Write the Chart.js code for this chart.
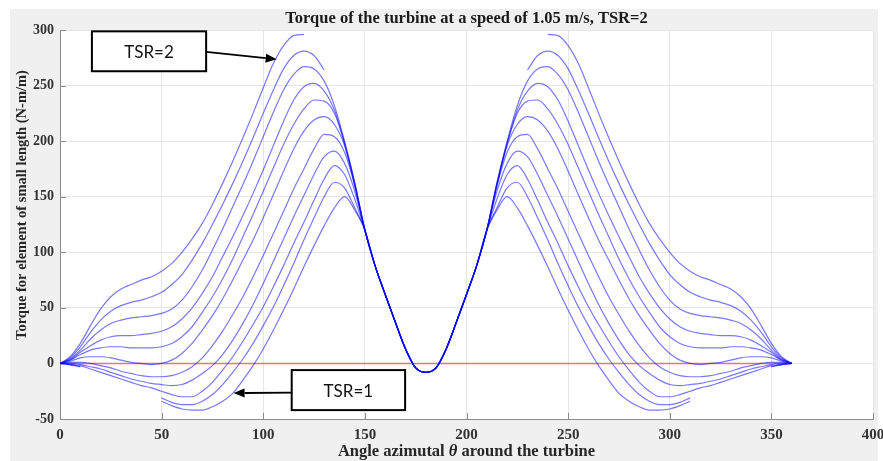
<!DOCTYPE html>
<html>
<head>
<meta charset="utf-8">
<script src="https://cdn.jsdelivr.net/npm/chart.js@4.4.0/dist/chart.umd.min.js"></script>
<style>
  html, body { margin: 0; padding: 0; background: #fff; }
  #wrap { width: 883px; height: 461px; }
</style>
</head>
<body>
<div id="wrap"><canvas id="torqueChart" width="883" height="461"></canvas></div>
<script>
// azimuth samples for the first half of the turn (deg); the plot is symmetric about 180
const thetaHalf = [0, 5, 10, 15, 20, 25, 30, 35, 40, 45, 50, 55, 60, 65, 70, 75, 80, 85, 90, 95,
  100, 105, 110, 115, 120, 125, 130, 135, 140, 145, 150, 155, 160, 165, 170, 175, 180];

// torque per unit length (N-m/m), one array per TSR
const torqueTSR20 = [0, 6, 18, 34, 49, 60, 67, 71, 75, 78, 83, 90, 100, 112, 126, 143, 162, 182, 203, 225,
  248, 270, 286, 295, 296, null, null, null, null, null, null, null, null, null, null, null, null];
const torqueTSR19 = [0, 5, 15, 28, 39, 47, 52, 55, 57, 60, 64, 71, 80, 93, 108, 125, 143, 162, 182, 203,
  225, 246, 265, 277, 281, 277, 264, null, null, null, null, null, null, null, null, null, null];
const torqueTSR18 = [0, 4, 12, 22, 30, 36, 39, 41, 42, 43, 45, 49, 57, 69, 84, 102, 121, 141, 161, 182,
  204, 226, 246, 260, 267, 265, 254, 232, 200, 163, 120, 88, 62, 37, 13, -4, -8];
const torqueTSR17 = [0, 3, 10, 16, 21, 24, 25, 25, 26, 27, 29, 33, 40, 50, 63, 78, 96, 114, 133, 153,
  174, 196, 218, 237, 249, 252, 245, 228, 198, 162, 120, 88, 62, 37, 13, -4, -8];
const torqueTSR16 = [0, 3, 8, 12, 14, 15, 15, 14, 14, 14, 15, 18, 24, 33, 46, 60, 76, 94, 114, 134,
  155, 176, 197, 215, 229, 237, 236, 225, 198, 162, 120, 88, 62, 37, 13, -4, -8];
const torqueTSR15 = [0, 2, 5, 6, 6, 5, 3, 1, 0, -1, 0, 3, 9, 18, 30, 43, 58, 75, 93, 111,
  131, 152, 173, 193, 209, 219, 222, 215, 196, 160, 120, 88, 62, 37, 13, -4, -8];
const torqueTSR14 = [0, 1, 1, 0, -2, -4, -7, -9, -11, -12, -12, -11, -8, -3, 5, 16, 29, 44, 60, 78,
  97, 117, 137, 157, 175, 193, 206, 204, 190, 160, 120, 88, 62, 37, 13, -4, -8];
const torqueTSR13 = [0, 0, -1, -3, -5, -8, -11, -14, -16, -18, -19, -20, -19, -15, -9, -2, 8, 21, 36, 53,
  72, 92, 112, 132, 151, 170, 186, 191, 180, 155, 120, 88, 62, 37, 13, -4, -8];
const torqueTSR12 = [0, -1, -2, -5, -8, -11, -14, -17, -20, -22, -25, -28, -30, -30, -25, -17, -6, 6, 20, 35,
  51, 69, 88, 108, 127, 147, 166, 178, 170, 148, 120, 88, 62, 37, 13, -4, -8];
const torqueTSR11 = [0, -1, -3, null, null, null, null, null, null, null, -31, -35, -37, -37, -34, -28, -19, -8, 4, 18,
  34, 51, 70, 90, 111, 131, 150, 163, 158, 140, 120, 88, 62, 37, 13, -4, -8];
const torqueTSR10 = [0, -1, -3, null, null, null, null, null, null, null, -34, -38, -41, -42, -42, -39, -34, -27, -15, -2,
  13, 30, 48, 67, 87, 106, 124, 140, 150, 138, 120, 88, 62, 37, 13, -4, -8];

const tsrSeries = [torqueTSR20, torqueTSR19, torqueTSR18, torqueTSR17, torqueTSR16, torqueTSR15,
  torqueTSR14, torqueTSR13, torqueTSR12, torqueTSR11, torqueTSR10];
const tsrLabels = ['TSR=2.0', 'TSR=1.9', 'TSR=1.8', 'TSR=1.7', 'TSR=1.6', 'TSR=1.5',
  'TSR=1.4', 'TSR=1.3', 'TSR=1.2', 'TSR=1.1', 'TSR=1.0'];

// zero reference line
const zeroTheta = [0, 360];
const zeroTorque = [0, 0];

const xTicks = [0, 50, 100, 150, 200, 250, 300, 350, 400];
const yTicks = [-50, 0, 50, 100, 150, 200, 250, 300];

// call-out boxes, in data units
const callouts = [
  { text: 'TSR=2', box: [15.7, 71.9, 298.8, 262.9], from: [71.9, 280.4], to: [106.6, 273.6] },
  { text: 'TSR=1', box: [114.0, 169.8, -6.0, -42.0], from: [114.0, -26.3], to: [85.4, -26.7] }
];

// second half of the turn is the mirror image of the first
function fullTurn(half) {
  return half.concat(half.slice(0, -1).reverse());
}
const thetaFull = thetaHalf.concat(thetaHalf.slice(0, -1).reverse().map(t => 360 - t));

const serif = "'Liberation Serif', 'DejaVu Serif', serif";

const datasets = tsrSeries.map((vals, i) => {
  const ys = fullTurn(vals);
  return {
    label: tsrLabels[i],
    data: thetaFull.map((t, j) => ({ x: t, y: ys[j] })),
    borderColor: 'rgba(10, 10, 255, 0.55)',
    borderWidth: 1.2,
    pointRadius: 0,
    fill: false,
    spanGaps: false,
    cubicInterpolationMode: 'monotone'
  };
});
datasets.push({
  label: 'zero',
  data: zeroTheta.map((t, j) => ({ x: t, y: zeroTorque[j] })),
  borderColor: 'rgba(255, 90, 90, 0.85)',
  borderWidth: 1.4,
  pointRadius: 0,
  fill: false
});

// figure background: grey frame, white axes
const backgroundPlugin = {
  id: 'figureBackground',
  beforeDraw(chart) {
    const { ctx, chartArea: a } = chart;
    ctx.save();
    ctx.fillStyle = '#ffffff';
    ctx.fillRect(0, 0, chart.width, chart.height);
    ctx.fillStyle = '#f0f0f0';
    ctx.fillRect(10, 9, 868, chart.height - 9);
    ctx.fillStyle = '#ffffff';
    ctx.fillRect(a.left, a.top, a.right - a.left, a.bottom - a.top);
    ctx.restore();
  }
};

// inward tick marks like the original plot
const innerTicksPlugin = {
  id: 'innerTicks',
  beforeDatasetsDraw(chart) {
    const { ctx, chartArea: a, scales } = chart;
    ctx.save();
    ctx.strokeStyle = '#8c8c8c';
    ctx.lineWidth = 1;
    ctx.beginPath();
    xTicks.forEach(v => {
      const px = Math.round(scales.x.getPixelForValue(v)) + 0.5;
      ctx.moveTo(px, a.bottom);
      ctx.lineTo(px, a.bottom - 6);
    });
    yTicks.forEach(v => {
      const py = Math.round(scales.y.getPixelForValue(v)) + 0.5;
      ctx.moveTo(a.left, py);
      ctx.lineTo(a.left + 6, py);
    });
    ctx.stroke();
    ctx.restore();
  }
};

// titles and call-outs
const textPlugin = {
  id: 'textsAndCallouts',
  afterDraw(chart) {
    const { ctx, chartArea: a, scales } = chart;
    const cx = (a.left + a.right) / 2;
    ctx.save();
    ctx.fillStyle = '#1a1a1a';
    ctx.textAlign = 'center';
    ctx.textBaseline = 'middle';
    ctx.font = 'bold 16.5px ' + serif;
    ctx.fillText('Torque of the turbine at a speed of 1.05 m/s, TSR=2', cx, 19);

    // x axis title with italic theta
    const parts = [['Angle azimutal ', 'bold'], ['\u03b8', 'italic bold'], [' around the turbine', 'bold']];
    let total = 0;
    parts.forEach(p => { ctx.font = p[1] + ' 16.5px ' + serif; total += ctx.measureText(p[0]).width; });
    let x = cx - total / 2;
    ctx.textAlign = 'left';
    ctx.fillStyle = '#262626';
    parts.forEach(p => {
      ctx.font = p[1] + ' 16.5px ' + serif;
      ctx.fillText(p[0], x, 452);
      x += ctx.measureText(p[0]).width;
    });

    // y axis title
    ctx.save();
    ctx.translate(22, 205);
    ctx.rotate(-Math.PI / 2);
    ctx.textAlign = 'center';
    ctx.font = 'bold 14.5px ' + serif;
    ctx.fillText('Torque for element of small length (N-m/m)', 0, 0);
    ctx.restore();

    // call-out boxes with arrows
    callouts.forEach(c => {
      const x0 = scales.x.getPixelForValue(c.box[0]);
      const x1 = scales.x.getPixelForValue(c.box[1]);
      const y0 = scales.y.getPixelForValue(c.box[2]);
      const y1 = scales.y.getPixelForValue(c.box[3]);
      ctx.fillStyle = '#ffffff';
      ctx.fillRect(x0, y0, x1 - x0, y1 - y0);
      ctx.strokeStyle = '#000000';
      ctx.lineWidth = 2;
      ctx.strokeRect(x0, y0, x1 - x0, y1 - y0);
      ctx.fillStyle = '#111111';
      ctx.font = '17px Lato, "Open Sans", sans-serif';
      ctx.textAlign = 'center';
      ctx.textBaseline = 'middle';
      ctx.fillText(c.text, (x0 + x1) / 2, (y0 + y1) / 2 + 1);

      const fx = scales.x.getPixelForValue(c.from[0]);
      const fy = scales.y.getPixelForValue(c.from[1]);
      const tx = scales.x.getPixelForValue(c.to[0]);
      const ty = scales.y.getPixelForValue(c.to[1]);
      const ang = Math.atan2(ty - fy, tx - fx);
      const head = 11, half = 4.5;
      const bx = tx - head * Math.cos(ang), by = ty - head * Math.sin(ang);
      ctx.strokeStyle = '#000000';
      ctx.lineWidth = 1.8;
      ctx.beginPath();
      ctx.moveTo(fx, fy);
      ctx.lineTo(bx, by);
      ctx.stroke();
      ctx.fillStyle = '#000000';
      ctx.beginPath();
      ctx.moveTo(tx, ty);
      ctx.lineTo(bx + half * Math.sin(ang), by - half * Math.cos(ang));
      ctx.lineTo(bx - half * Math.sin(ang), by + half * Math.cos(ang));
      ctx.closePath();
      ctx.fill();
    });
    ctx.restore();
  }
};

const chart = new Chart(document.getElementById('torqueChart').getContext('2d'), {
  type: 'line',
  data: { datasets: datasets },
  options: {
    responsive: false,
    animation: false,
    layout: { padding: { left: 0, top: 30, right: 10, bottom: 0 } },
    plugins: {
      legend: { display: false },
      tooltip: { enabled: false },
      title: { display: false }
    },
    scales: {
      x: {
        type: 'linear',
        min: 0,
        max: 400,
        afterBuildTicks: s => { s.ticks = xTicks.map(v => ({ value: v })); },
        afterFit: s => { s.height = 42; s.paddingLeft = 0; s.paddingRight = 0; },
        ticks: {
          padding: 7,
          color: '#333333',
          font: { family: serif, size: 15, weight: 'bold' },
          maxRotation: 0
        },
        grid: { color: '#e6e6e6', lineWidth: 1, drawTicks: false },
        border: { display: true, color: '#8c8c8c', width: 1 }
      },
      y: {
        type: 'linear',
        min: -50,
        max: 300,
        afterBuildTicks: s => { s.ticks = yTicks.map(v => ({ value: v })); },
        afterFit: s => { s.width = 60; s.paddingTop = 0; s.paddingBottom = 0; },
        ticks: {
          padding: 6,
          color: '#333333',
          font: { family: serif, size: 14, weight: 'bold' }
        },
        grid: { color: '#e6e6e6', lineWidth: 1, drawTicks: false },
        border: { display: true, color: '#8c8c8c', width: 1 }
      }
    }
  },
  plugins: [backgroundPlugin, innerTicksPlugin, textPlugin]
});
</script>
</body>
</html>
